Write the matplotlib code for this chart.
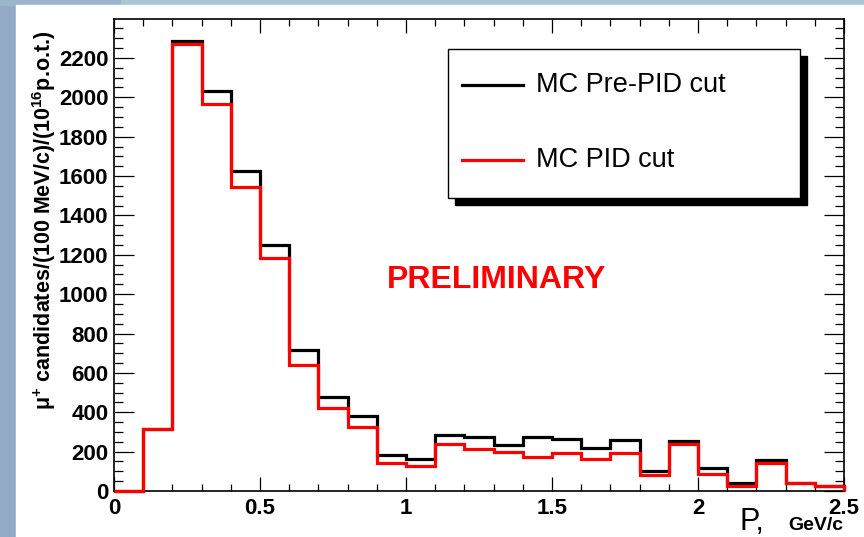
import numpy as np
import matplotlib
matplotlib.use("Agg")
import matplotlib.pyplot as plt
from matplotlib.patches import Rectangle
from matplotlib.lines import Line2D

plt.rcParams['font.family'] = ['Liberation Sans', 'DejaVu Sans']
plt.rcParams['mathtext.fontset'] = 'custom'
plt.rcParams['mathtext.rm'] = 'Liberation Sans'
plt.rcParams['mathtext.bf'] = 'Liberation Sans:bold'
plt.rcParams['mathtext.it'] = 'Liberation Sans:italic'

# momentum bins, 100 MeV/c wide
edges = np.round(np.arange(0, 2.51, 0.1), 2)
pre_pid = [0, 315, 2285, 2033, 1626, 1250, 716, 479, 383, 183, 164, 285, 276,
           234, 276, 263, 216, 259, 103, 254, 118, 42, 157, 40, 27]
pid = [0, 315, 2272, 1968, 1546, 1185, 640, 420, 327, 141, 129, 237, 213,
       200, 174, 191, 161, 191, 81, 237, 86, 25, 141, 40, 25]
legend_labels = ['MC Pre-PID cut', 'MC PID cut']
yticks = list(range(0, 2201, 200))
xticks = [0, 0.5, 1, 1.5, 2, 2.5]
xticklabels = ['0', '0.5', '1', '1.5', '2', '2.5']

fig = plt.figure(figsize=(8.64, 5.37), dpi=100)
fig.patch.set_facecolor('#a9c6d4')
# slide background: left strip and white canvas
fig.patches.append(Rectangle((0, 0), 16 / 864, 1, transform=fig.transFigure,
                             color='#93aac6', zorder=-2))
fig.patches.append(Rectangle((0, 1), 120 / 864, -5 / 537, transform=fig.transFigure,
                             color='#9bb5cc', zorder=-2))
fig.patches.append(Rectangle((16 / 864, 0), 1, 532 / 537, transform=fig.transFigure,
                             color='white', zorder=-1))

ax = fig.add_axes([114 / 864, 46 / 537, 730 / 864, 472 / 537])
ax.set_facecolor('white')

ax.stairs(pre_pid, edges, color='black', linewidth=2.3, clip_on=False, zorder=3)
ax.stairs(pid, edges, color='#ff0000', linewidth=2.3, clip_on=False, zorder=4)

ax.set_xlim(0, 2.5)
ax.set_ylim(0, 2398)
ax.set_xticks(xticks)
ax.set_xticklabels(xticklabels)
ax.set_xticks(np.arange(0, 2.51, 0.1), minor=True)
ax.set_yticks(yticks)
ax.set_yticks(np.arange(0, 2400, 50), minor=True)

ax.tick_params(axis='x', which='major', direction='in', top=True, length=10,
               width=0.9, pad=5, labelsize=16)
ax.tick_params(axis='x', which='minor', direction='in', top=True, length=5, width=0.9)
ax.tick_params(axis='y', which='major', direction='in', right=True, length=14.5,
               width=0.9, pad=4, labelsize=16)
ax.tick_params(axis='y', which='minor', direction='in', right=True, length=6.5, width=0.9)
for lab in ax.get_xticklabels() + ax.get_yticklabels():
    lab.set_fontweight('bold')
for sp in ax.spines.values():
    sp.set_linewidth(1.2)

# PRELIMINARY stamp
ax.text(1.31, 1070, 'PRELIMINARY', color='#ff0000', fontsize=23,
        fontweight='bold', ha='center', va='center')

# ROOT-like legend with shadow
lx0, ly0, lw, lh = (448 - 114) / 730, (491 - 198) / 472, 352 / 730, 149 / 472
dx, dy = 7 / 730, 7 / 472
ax.add_patch(Rectangle((lx0 + dx, ly0 - dy), lw, lh, transform=ax.transAxes,
                       facecolor='black', edgecolor='black', zorder=5))
ax.add_patch(Rectangle((lx0, ly0), lw, lh, transform=ax.transAxes,
                       facecolor='white', edgecolor='black', linewidth=1, zorder=6))
for i, (lab, col) in enumerate(zip(legend_labels, ['black', '#ff0000'])):
    yy = (491 - (85 + 75 * i)) / 472
    ax.add_line(Line2D([(462 - 114) / 730, (523 - 114) / 730], [yy, yy],
                       transform=ax.transAxes, color=col, linewidth=2.3, zorder=7))
    ax.text((536 - 114) / 730, yy, lab, transform=ax.transAxes, fontsize=19.5,
            va='center', ha='left', zorder=7)

# axis titles
fig.text(44 / 864, (537 - 220) / 537,
         'μ$^{\\mathbf{+}}$ candidates/(100 MeV/c)/(10$^{\\mathbf{16}}$p.o.t.)',
         rotation=90, ha='center', va='center', fontsize=15.5, fontweight='bold')
fig.text(740 / 864, 7 / 537, 'P,', fontsize=22, ha='left', va='baseline')
fig.text(843 / 864, 7 / 537, 'GeV/c', fontsize=14, fontweight='bold',
         ha='right', va='baseline')

fig.savefig('out.png', dpi=100, facecolor=fig.get_facecolor())
